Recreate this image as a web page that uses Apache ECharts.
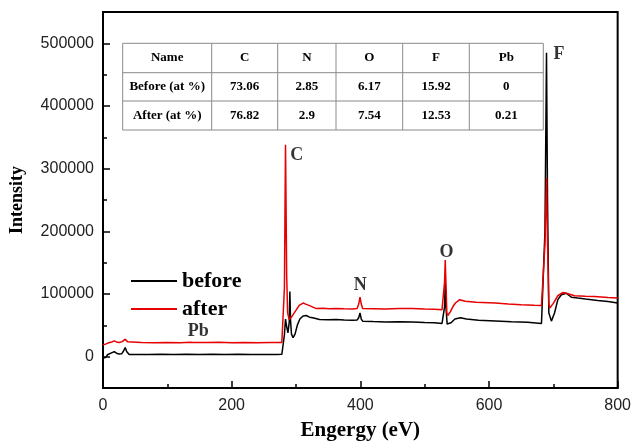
<!DOCTYPE html>
<html>
<head>
<meta charset="utf-8">
<script src="https://cdn.jsdelivr.net/npm/echarts@6/dist/echarts.min.js"></script>
<style>
  html, body { margin: 0; padding: 0; background: #fff; }
  #chart { width: 634px; height: 446px; }
</style>
</head>
<body>
<div id="chart"></div>
<script>
// spectrum "before"
var beforeEnergy = [0, 4, 7, 10, 14, 17.5, 21, 25, 29, 32, 34.5, 37, 40.7, 50, 70, 90, 110, 130, 150, 170, 190, 210, 230, 250, 270, 278,
  280.5, 282, 283.7, 285.5, 287.5, 289.5, 290.5, 291.5, 293, 295.5, 298.5, 302, 306, 311, 316, 321, 326, 336.7, 350, 362.5, 375, 388,
  395, 397.5, 399.5, 401.5, 403.6, 420, 439.7, 460, 480.8, 500, 515, 527, 529.5, 531, 532, 533, 535, 537.5, 541, 547, 555.5, 565,
  583.8, 610, 635, 660, 681.6, 684.5, 687, 689.4, 691, 693, 697, 702, 707, 712.5, 720, 724, 728, 738, 750, 769, 785, 800];
var beforeIntensity = [-2000, -1500, 3000, 5800, 6500, 7900, 5500, 4200, 4500, 9000, 14700, 8000, 3500, 3600, 3400, 3800, 3500, 3700, 3600, 3900, 3500, 3700, 3300, 3600, 3500, 3800,
  6000, 35000, 60000, 48000, 38000, 55000, 104000, 58000, 36000, 30400, 36000, 50000, 60000, 65000, 65700, 63000, 62000, 59400, 59000, 59400, 58500, 58000,
  58500, 62000, 69800, 60000, 56700, 56000, 55200, 55800, 55200, 54500, 54000, 53000, 55000, 80000, 120000, 80000, 52000, 50000, 54000, 60000, 62000, 60000,
  58300, 57000, 55600, 54800, 53000, 56000, 200000, 485000, 250000, 70000, 56700, 70000, 91000, 98800, 101300, 98000, 95000, 93500, 92000, 89800, 88000, 85600];

// spectrum "after"
var afterEnergy = [0, 4, 10, 14, 17.5, 21, 25, 30, 34.5, 38, 40.7, 60, 80, 100, 120, 136, 138, 140, 160, 180, 200, 220, 240, 260, 278,
  280.5, 282, 283.7, 285.5, 287, 289.3, 291, 293, 296, 300.7, 305, 311, 316, 321, 331.6, 341.8, 352, 362.5, 375, 388,
  395, 397.5, 399.5, 401.5, 403.6, 420, 439.7, 460, 480.8, 500, 515, 527, 529.5, 531, 532, 533, 534.5, 536, 540, 544, 547.8, 554.5, 563,
  580, 609.6, 630, 650, 670, 681.6, 684.5, 687, 689.4, 691, 693, 694.5, 700, 707, 715, 723, 733, 750, 764, 785, 800];
var afterIntensity = [19000, 20000, 22500, 23500, 25200, 23500, 22500, 24000, 27900, 24000, 22500, 22800, 22300, 22600, 22400, 23000, 25000, 22800, 22500, 22900, 22400, 22700, 22300, 22600, 22500,
  24000, 110000, 338000, 130000, 70000, 59400, 62000, 63000, 68000, 75000, 82000, 85600, 83500, 81500, 76700, 77200, 76500, 76700, 76300, 76100,
  77000, 84000, 95000, 84000, 76700, 76500, 76100, 77000, 76700, 76000, 75500, 75000, 78000, 120000, 154400, 120000, 70000, 65700, 72000, 80000, 85600, 90900, 88300,
  87000, 85600, 84200, 83000, 82000, 81500, 84000, 180000, 285300, 180000, 85000, 77700, 85000, 97200, 102400, 100300, 97200, 96500, 96100, 94500, 93500];

// peak labels
var peakNames = ['C', 'N', 'O', 'F', 'Pb'];
var peakLabelEnergy = [301, 400, 534, 709, 148];
var peakLabelIntensity = [321500, 113500, 167000, 482000, 41000];

// axis ticks
var xMajorTicks = [0, 200, 400, 600, 800];
var xMinorTicks = [100, 300, 500, 700];
var yMajorTicks = [0, 100000, 200000, 300000, 400000, 500000];
var yMinorTicks = [50000, 150000, 250000, 350000, 450000];

// table
var tableHeader = ['Name', 'C', 'N', 'O', 'F', 'Pb'];
var tableBefore = ['Before (at %)', '73.06', '2.85', '6.17', '15.92', '0'];
var tableAfter = ['After (at %)', '76.82', '2.9', '7.54', '12.53', '0.21'];

var serif = "'Liberation Serif', 'Times New Roman', serif";
var sans = "'Liberation Sans', Arial, sans-serif";

function zip(a, b) {
  var out = [];
  for (var i = 0; i < a.length; i++) out.push([a[i], b[i]]);
  return out;
}

// table graphic
var colEdges = [122.7, 211.7, 277.7, 336, 402.7, 469.3, 543.3];
var rowEdges = [43.3, 72.7, 101, 130];
var tableRows = [tableHeader, tableBefore, tableAfter];
var tableGraphic = [];
tableGraphic.push({
  type: 'rect',
  shape: { x: colEdges[0], y: rowEdges[0], width: colEdges[6] - colEdges[0], height: rowEdges[3] - rowEdges[0] },
  style: { fill: '#fff', stroke: '#8a8a8a', lineWidth: 1 }
});
for (var c = 1; c < colEdges.length - 1; c++) {
  tableGraphic.push({ type: 'line', shape: { x1: colEdges[c], y1: rowEdges[0], x2: colEdges[c], y2: rowEdges[3] }, style: { stroke: '#8a8a8a', lineWidth: 1 } });
}
for (var r = 1; r < rowEdges.length - 1; r++) {
  tableGraphic.push({ type: 'line', shape: { x1: colEdges[0], y1: rowEdges[r], x2: colEdges[6], y2: rowEdges[r] }, style: { stroke: '#8a8a8a', lineWidth: 1 } });
}
for (var r = 0; r < tableRows.length; r++) {
  for (var c = 0; c < tableRows[r].length; c++) {
    tableGraphic.push({
      type: 'text',
      x: (colEdges[c] + colEdges[c + 1]) / 2,
      y: (rowEdges[r] + rowEdges[r + 1]) / 2,
      style: { text: tableRows[r][c], fill: '#000', font: 'bold 13px ' + serif, align: 'center', verticalAlign: 'middle' }
    });
  }
}

var myChart = echarts.init(document.getElementById('chart'));
myChart.setOption({
  animation: false,
  backgroundColor: '#fff',
  grid: { left: 102, right: 14, top: 12, bottom: 53, show: true, borderColor: '#000', borderWidth: 2, backgroundColor: 'transparent' },
  legend: {
    data: ['before', 'after'],
    orient: 'vertical',
    left: 126,
    top: 265,
    icon: 'rect',
    itemWidth: 46,
    itemHeight: 2,
    itemGap: 6,
    textStyle: { fontFamily: serif, fontWeight: 'bold', fontSize: 22, color: '#000', lineHeight: 22 }
  },
  xAxis: [{
    type: 'value', min: 0, max: 800,
    name: 'Engergy (eV)', nameLocation: 'middle', nameGap: 32,
    nameTextStyle: { fontFamily: serif, fontWeight: 'bold', fontSize: 21, color: '#000' },
    axisLine: { onZero: false, lineStyle: { color: '#000', width: 2 } },
    axisTick: { inside: true, length: 7, lineStyle: { color: '#000', width: 1.5 }, customValues: xMajorTicks },
    axisLabel: { fontFamily: sans, fontSize: 16, color: '#222', margin: 10, customValues: xMajorTicks },
    splitLine: { show: false }
  }, {
    type: 'value', min: 0, max: 800, position: 'bottom',
    axisLine: { show: false, onZero: false },
    axisTick: { inside: true, length: 4, lineStyle: { color: '#000', width: 1.5 }, customValues: xMinorTicks },
    axisLabel: { show: false },
    splitLine: { show: false }
  }],
  yAxis: [{
    type: 'value', min: -50000, max: 550000,
    name: 'Intensity', nameLocation: 'middle', nameGap: 77,
    nameTextStyle: { fontFamily: serif, fontWeight: 'bold', fontSize: 18, color: '#000' },
    axisLine: { show: true, onZero: false, lineStyle: { color: '#000', width: 2 } },
    axisTick: { show: true, inside: true, length: 7, lineStyle: { color: '#000', width: 1.5 }, customValues: yMajorTicks },
    axisLabel: {
      fontFamily: sans, fontSize: 16, color: '#222', margin: 9, customValues: yMajorTicks,
      formatter: function (v) { return String(v); }
    },
    splitLine: { show: false }
  }, {
    type: 'value', min: -50000, max: 550000, position: 'left',
    axisLine: { show: false, onZero: false },
    axisTick: { show: true, inside: true, length: 4, lineStyle: { color: '#000', width: 1.5 }, customValues: yMinorTicks },
    axisLabel: { show: false },
    splitLine: { show: false }
  }],
  series: [{
    name: 'before',
    type: 'line',
    data: zip(beforeEnergy, beforeIntensity),
    symbol: 'none',
    color: '#000',
    lineStyle: { color: '#000', width: 1.5 },
    z: 2
  }, {
    name: 'after',
    type: 'line',
    data: zip(afterEnergy, afterIntensity),
    symbol: 'none',
    color: '#e60000',
    lineStyle: { color: '#e60000', width: 1.5 },
    z: 3
  }, {
    name: 'peaks',
    type: 'scatter',
    symbolSize: 0,
    silent: true,
    data: peakNames.map(function (n, i) {
      return { value: [peakLabelEnergy[i], peakLabelIntensity[i]], name: n };
    }),
    label: {
      show: true, position: 'inside',
      formatter: function (p) { return p.name; },
      fontFamily: serif, fontWeight: 'bold', color: '#000',
      fontSize: 18
    },
    z: 4
  }],
  graphic: tableGraphic
});

window.onresize = function () {
  myChart.resize();
};
</script>
</body>
</html>
